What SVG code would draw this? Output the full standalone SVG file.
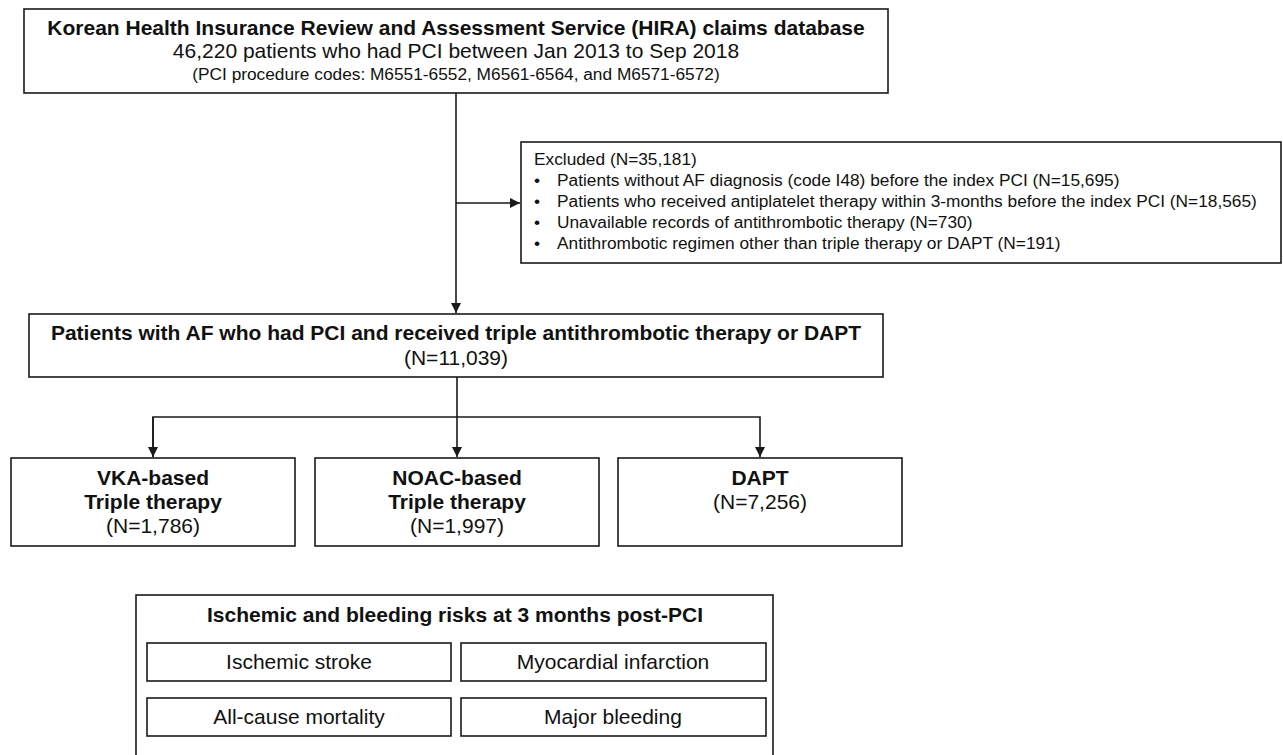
<svg xmlns="http://www.w3.org/2000/svg" width="1283" height="755" viewBox="0 0 1283 755">
<style>
.box{fill:#fff;stroke:#1a1a1a;stroke-width:1.6}
.t{font-family:"Liberation Sans",Arial,sans-serif;font-size:21px;fill:#111;text-anchor:middle}
.b{font-weight:bold}
.s{font-size:17.3px}
.l{text-anchor:start}
.c{fill:none;stroke:#1a1a1a;stroke-width:1.6}
</style>
<defs>
<marker id="ah" viewBox="0 0 10 10" refX="10" refY="5" markerWidth="10" markerHeight="10" markerUnits="userSpaceOnUse" orient="auto">
<path d="M0,0 L10,5 L0,10 z" fill="#1a1a1a"/>
</marker>
</defs>
<rect width="1283" height="755" fill="#fff"/>
<g id="connectors">
<path class="c" d="M456,93 V313" marker-end="url(#ah)"/>
<path class="c" d="M456,203 H520" marker-end="url(#ah)"/>
<path class="c" d="M457,377 V457" marker-end="url(#ah)"/>
<path class="c" d="M153,457 V417 H760 V457" marker-end="url(#ah)"/>
<path class="c" d="M153,417 V457" marker-end="url(#ah)"/>
</g>
<g id="source">
<rect class="box" x="24" y="9" width="864" height="84"/>
<text class="t b" x="456" y="35">Korean Health Insurance Review and Assessment Service (HIRA) claims database</text>
<text class="t" x="456" y="58">46,220 patients who had PCI between Jan 2013 to Sep 2018</text>
<text class="t s" x="456" y="80">(PCI procedure codes: M6551-6552, M6561-6564, and M6571-6572)</text>
</g>
<g id="excluded">
<rect class="box" x="521" y="142" width="760" height="121"/>
<text class="t s l" x="534" y="165">Excluded (N=35,181)</text>
<text class="t s l" x="534" y="186">•</text><text class="t s l" x="557" y="186">Patients without AF diagnosis (code I48) before the index PCI (N=15,695)</text>
<text class="t s l" x="534" y="207">•</text><text class="t s l" x="557" y="207">Patients who received antiplatelet therapy within 3-months before the index PCI (N=18,565)</text>
<text class="t s l" x="534" y="228">•</text><text class="t s l" x="557" y="228">Unavailable records of antithrombotic therapy (N=730)</text>
<text class="t s l" x="534" y="249">•</text><text class="t s l" x="557" y="249">Antithrombotic regimen other than triple therapy or DAPT (N=191)</text>
</g>
<g id="cohort">
<rect class="box" x="29" y="314" width="854" height="63"/>
<text class="t b" x="456" y="340">Patients with AF who had PCI and received triple antithrombotic therapy or DAPT</text>
<text class="t" x="456" y="365">(N=11,039)</text>
</g>
<g id="vka">
<rect class="box" x="11" y="458" width="284" height="88"/>
<text class="t b" x="153" y="485">VKA-based</text>
<text class="t b" x="153" y="509">Triple therapy</text>
<text class="t" x="153" y="533">(N=1,786)</text>
</g>
<g id="noac">
<rect class="box" x="315" y="458" width="284" height="88"/>
<text class="t b" x="457" y="485">NOAC-based</text>
<text class="t b" x="457" y="509">Triple therapy</text>
<text class="t" x="457" y="533">(N=1,997)</text>
</g>
<g id="dapt">
<rect class="box" x="618" y="458" width="284" height="88"/>
<text class="t b" x="760" y="485">DAPT</text>
<text class="t" x="760" y="509">(N=7,256)</text>
</g>
<g id="outcomes">
<rect class="box" x="136" y="595" width="637" height="170"/>
<text class="t b" x="455" y="622">Ischemic and bleeding risks at 3 months post-PCI</text>
<g id="stroke"><rect class="box" x="147" y="643" width="304" height="38"/><text class="t" x="299" y="669">Ischemic stroke</text></g>
<g id="mi"><rect class="box" x="461" y="643" width="305" height="38"/><text class="t" x="613" y="669">Myocardial infarction</text></g>
<g id="mortality"><rect class="box" x="147" y="698" width="304" height="38"/><text class="t" x="299" y="724">All-cause mortality</text></g>
<g id="bleeding"><rect class="box" x="461" y="698" width="305" height="38"/><text class="t" x="613" y="724">Major bleeding</text></g>
</g>
</svg>
